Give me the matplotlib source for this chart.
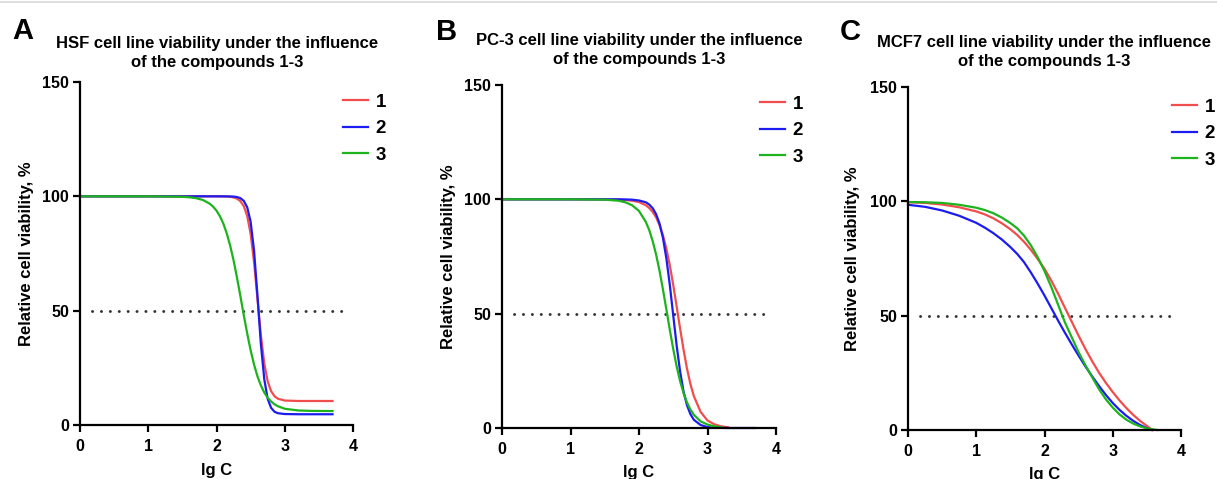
import matplotlib
matplotlib.use("Agg")
import matplotlib.pyplot as plt
from matplotlib.lines import Line2D

plt.rcParams["font.family"] = ["Liberation Sans", "DejaVu Sans"]
plt.rcParams["font.weight"] = "bold"

W, H = 1217, 479
RED, BLUE, GREEN = "#f24d4d", "#1c1cf0", "#1db31d"
COLORS = [RED, BLUE, GREEN]

compounds = ["1", "2", "3"]
letters = ["A", "B", "C"]
titles = ["HSF cell line viability under the influence\nof the compounds 1-3",
          "PC-3 cell line viability under the influence\nof the compounds 1-3",
          "MCF7 cell line viability under the influence\nof the compounds 1-3"]
x_ticks = [0, 1, 2, 3, 4]
y_ticks = [0, 50, 100, 150]
half_line = 50
half_line_x = [0.17, 3.93]

# --- A: HSF ---
hsf_x = [0, 1.0, 1.5, 1.6, 1.7, 1.8, 1.9, 1.95, 2.0, 2.05, 2.1, 2.15, 2.2, 2.25, 2.3, 2.35,
         2.4, 2.45, 2.5, 2.55, 2.6, 2.65, 2.7, 2.75, 2.8, 2.85, 2.9, 3.0, 3.2, 3.4, 3.7]
hsf_1 = [100, 100, 100, 100, 100, 100, 100, 100, 100, 99.98, 99.95, 99.9, 99.8, 99.5, 99.0, 97.9,
         95.7, 91.4, 83.6, 71.3, 55.3, 39.3, 26.9, 19.1, 14.8, 12.6, 11.5, 10.7, 10.5, 10.5, 10.5]
hsf_2 = [100, 100, 100, 100, 100, 100, 100, 100, 100, 100, 100, 99.98, 99.95, 99.9, 99.7, 99.2,
         98.0, 95.2, 88.9, 76.3, 56.7, 35.5, 20.0, 11.4, 7.5, 5.8, 5.15, 4.8, 4.7, 4.7, 4.7]
hsf_3 = [100, 100, 99.8, 99.6, 99.2, 98.4, 96.8, 95.5, 93.75, 91.3, 88.1, 83.8, 78.5, 72.0, 64.5, 56.4,
         48.0, 40.0, 32.7, 26.45, 21.3, 17.3, 14.2, 11.9, 10.3, 9.05, 8.2, 7.1, 6.35, 6.16, 6.1]

# --- B: PC-3 ---
pc3_x = [0, 1.0, 1.5, 1.7, 1.8, 1.9, 2.0, 2.1, 2.15, 2.2, 2.25, 2.3, 2.35, 2.4, 2.45,
         2.5, 2.55, 2.6, 2.65, 2.7, 2.75, 2.8, 2.9, 3.0, 3.1, 3.2, 3.3, 3.4, 3.7]
pc3_1 = [100, 100, 99.97, 99.9, 99.7, 99.4, 98.8, 97.4, 96.2, 94.5, 92.1, 88.7, 84.2, 78.4, 71.1,
         62.5, 53.1, 43.5, 34.3, 26.1, 19.3, 14.0, 7.0, 3.3, 1.6, 0.7, 0.3]
pc3_2 = [100, 100, 100, 100, 99.95, 99.85, 99.5, 98.7, 97.7, 96.1, 93.5, 89.4, 83.1, 74.1, 62.5,
         49.2, 36.0, 24.7, 16.0, 10.0, 6.1, 3.6, 1.3, 0.4, 0.15, 0.05, 0, 0, 0]
pc3_3 = [100, 100, 99.85, 99.4, 98.7, 97.4, 94.9, 90.1, 86.5, 81.7, 75.8, 68.7, 60.5, 51.8, 42.9,
         34.5, 26.9, 20.5, 15.3, 11.2, 8.1, 5.8, 2.9, 1.5, 0.7, 0.35]

# --- C: MCF7 ---
mcf7_x = [0, 0.25, 0.5, 0.75, 1.0, 1.125, 1.25, 1.375, 1.5, 1.6, 1.7, 1.8, 1.9, 2.0, 2.1,
          2.2, 2.3, 2.4, 2.5, 2.6, 2.7, 2.8, 2.9, 3.0, 3.1, 3.2, 3.3, 3.4, 3.5]
mcf7_end = [3.58, 3.57, 3.65]  # where each curve reaches 0
mcf7_1 = [99.6, 99.3, 98.6, 97.4, 95.6, 94.3, 92.6, 90.4, 87.8, 85.3, 82.3, 78.8, 74.8, 70.5, 65.3,
          59.6, 53.4, 47.3, 41.2, 35.4, 30.0, 25.0, 20.6, 16.6, 12.9, 9.6, 6.6, 4.0, 1.8, 0]
mcf7_2 = [98.5, 97.6, 96.0, 93.7, 90.6, 88.5, 86.1, 83.3, 80.0, 77.0, 73.4, 68.9, 64.0, 58.8, 53.3,
          47.8, 42.5, 37.4, 32.5, 27.8, 23.4, 19.2, 15.3, 11.8, 8.8, 6.2, 4.0, 2.2, 0.8, 0]
mcf7_3 = [99.7, 99.6, 99.3, 98.5, 97.2, 96.2, 94.8, 92.9, 90.5, 88.2, 85.0, 80.8, 75.6, 69.5, 62.5,
          54.7, 47.0, 40.5, 34.0, 28.3, 23.0, 17.8, 13.4, 9.8, 6.8, 4.5, 2.8, 1.6, 0.7, 0]

panels = [
    [(hsf_x, hsf_1), (hsf_x, hsf_2), (hsf_x, hsf_3)],
    [(pc3_x[:len(pc3_1)], pc3_1), (pc3_x, pc3_2), (pc3_x[:len(pc3_3)], pc3_3)],
    [(mcf7_x + [e], ys) for e, ys in zip(mcf7_end, [mcf7_1, mcf7_2, mcf7_3])],
]

# layout in pixels: axes (left, top, right, bottom), letter/title/label positions
axes_px = [(80, 82, 353, 425), (502, 85, 776, 428), (908, 87, 1181, 430)]
letter_px = [(23, 31), (447, 32), (850, 32)]
title_px = [(217, 53), (639, 50), (1044, 52)]
ylab_px = [27, 448, 853]
xlab_py = [470, 473, 474]
legend_px = [(343, 98), (760, 100), (1172, 103)]

fig = plt.figure(figsize=(W / 100, H / 100), dpi=100)
fig.add_artist(Line2D([0, 1], [1 - 2 / H, 1 - 2 / H], color="#d9d9d9", lw=1.2))

for i, curves in enumerate(panels):
    l, t, r, b = axes_px[i]
    ax = fig.add_axes([l / W, 1 - b / H, (r - l) / W, (b - t) / H])
    ax.plot(half_line_x, [half_line, half_line], color="#333333", lw=2.1,
            linestyle=(0, (0.05, 3.0)), dash_capstyle="round")
    for (xs, ys), c, name in zip(curves, COLORS, compounds):
        ax.plot(xs, ys, color=c, lw=1.6, label=name, clip_on=False)
    ax.set_xlim(0, 4)
    ax.set_ylim(0, 150)
    ax.set_xticks(x_ticks)
    ax.set_yticks(y_ticks)
    for s in ["top", "right"]:
        ax.spines[s].set_visible(False)
    for s in ["left", "bottom"]:
        ax.spines[s].set_linewidth(1.6)
    ax.tick_params(direction="out", length=5, width=1.6, labelsize=11.5)
    ax.tick_params(axis="x", pad=5)
    ax.tick_params(axis="y", pad=3)
    ax.set_ylabel("Relative cell viability, %", fontsize=12, fontweight="bold", va="center")
    ax.yaxis.set_label_coords((ylab_px[i] - l) / (r - l), 0.5)
    ax.set_xlabel("lg C", fontsize=12, fontweight="bold", va="center")
    ax.xaxis.set_label_coords(0.5, (b - xlab_py[i]) / (b - t))

    lx, ly = legend_px[i]
    ax.legend(loc="center left", bbox_to_anchor=((lx - l) / (r - l), (b - ly) / (b - t) - 0.09),
              frameon=False, fontsize=13.5, handlelength=1.35, handletextpad=0.4,
              labelspacing=0.5, borderpad=0, borderaxespad=0)

    fx, fy = letter_px[i]
    fig.text(fx / W, 1 - fy / H, letters[i], fontsize=21, fontweight="bold",
             ha="center", va="center")
    tx, ty = title_px[i]
    fig.text(tx / W, 1 - ty / H, titles[i], fontsize=12, fontweight="bold",
             ha="center", va="center", linespacing=1.32)

fig.savefig("out.png", dpi=100)
